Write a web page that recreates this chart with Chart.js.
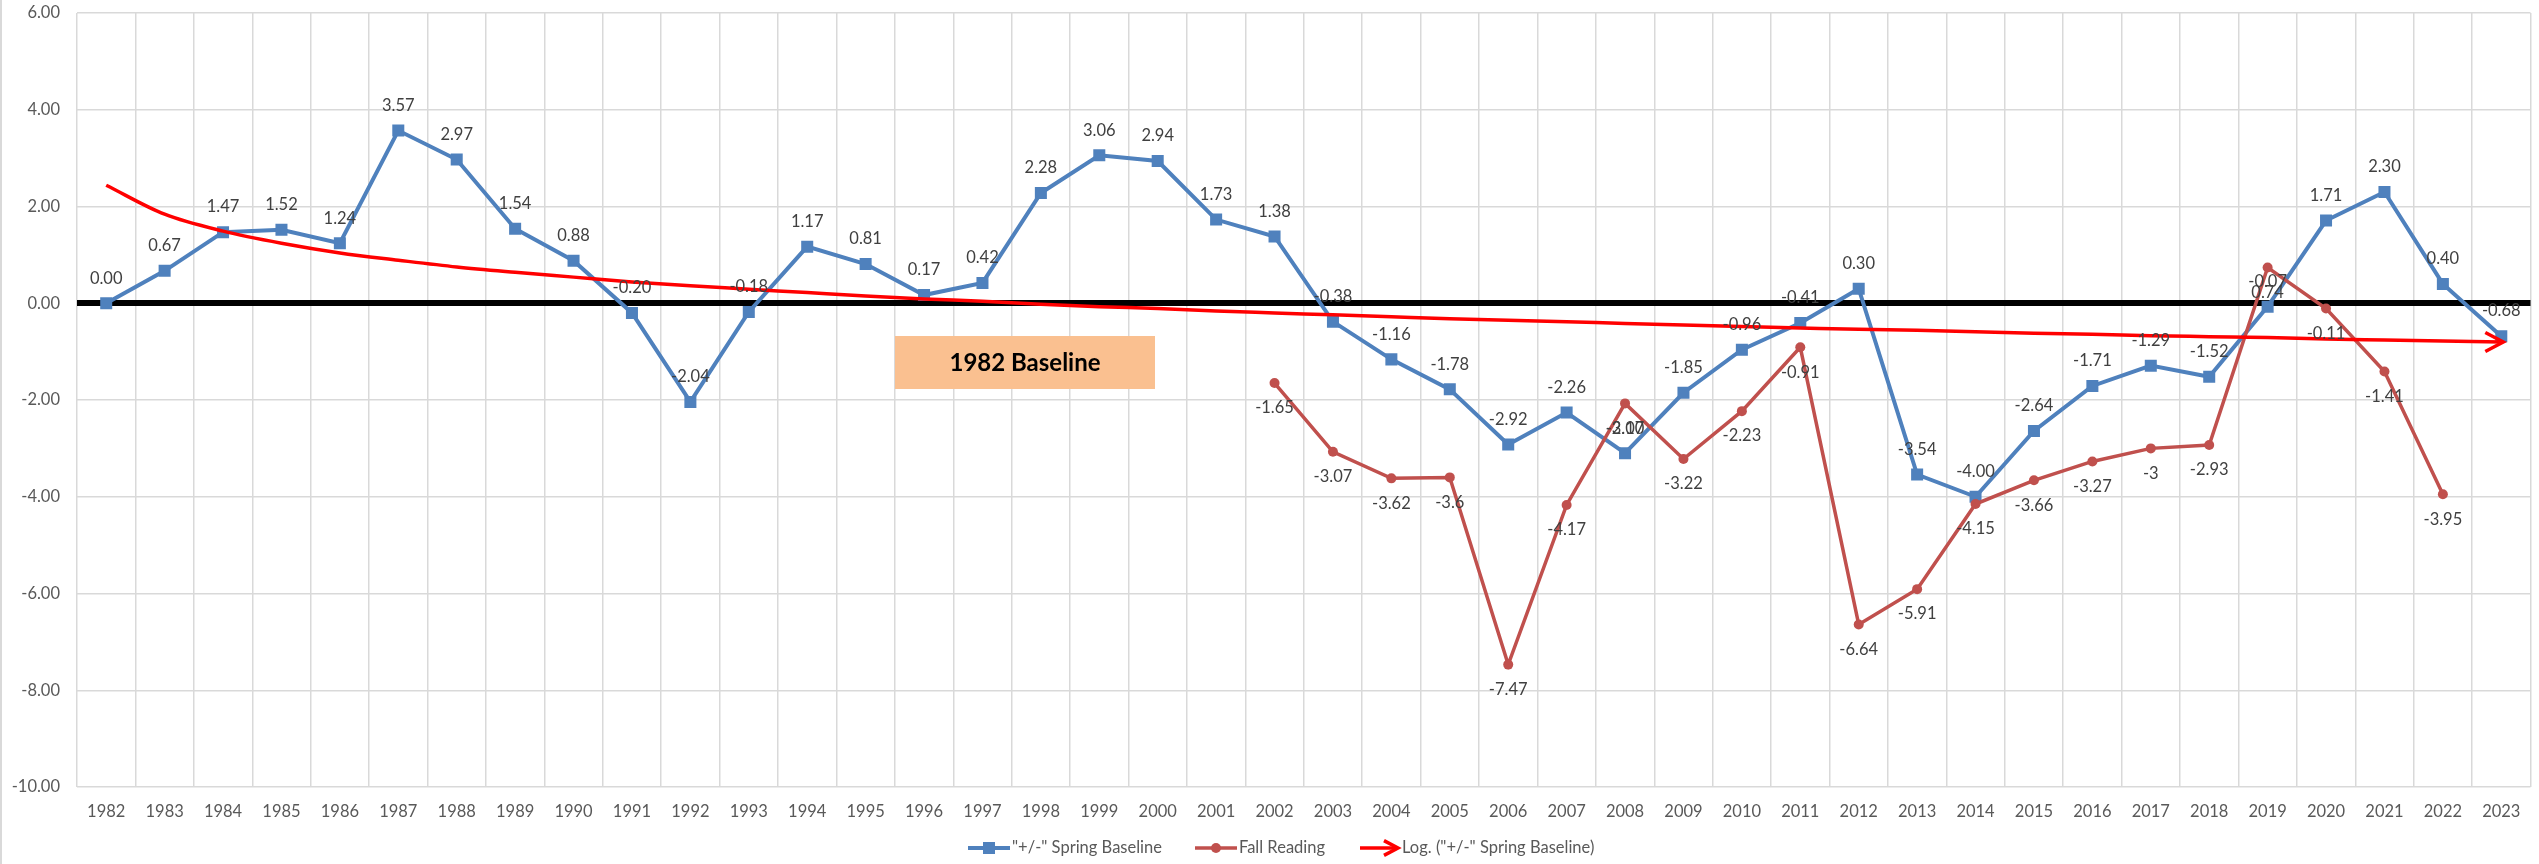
<!DOCTYPE html>
<html>
<head>
<meta charset="utf-8">
<script src="https://cdn.jsdelivr.net/npm/chart.js@4.4.1/dist/chart.umd.min.js"></script>
<style>
    html, body { margin: 0; padding: 0; background: #fff; }
    canvas { display: block; }
</style>
</head>
<body>
<canvas id="readingChart" width="2539" height="864"></canvas>
<script>
// Chart data
const years = ['1982', '1983', '1984', '1985', '1986', '1987', '1988', '1989', '1990', '1991',
    '1992', '1993', '1994', '1995', '1996', '1997', '1998', '1999', '2000', '2001',
    '2002', '2003', '2004', '2005', '2006', '2007', '2008', '2009', '2010', '2011',
    '2012', '2013', '2014', '2015', '2016', '2017', '2018', '2019', '2020', '2021',
    '2022', '2023'];

const springBaseline = [0.00, 0.67, 1.47, 1.52, 1.24, 3.57, 2.97, 1.54, 0.88, -0.20,
    -2.04, -0.18, 1.17, 0.81, 0.17, 0.42, 2.28, 3.06, 2.94, 1.73,
    1.38, -0.38, -1.16, -1.78, -2.92, -2.26, -3.10, -1.85, -0.96, -0.41,
    0.30, -3.54, -4.00, -2.64, -1.71, -1.29, -1.52, -0.07, 1.71, 2.30,
    0.40, -0.68];

const fallReading = [null, null, null, null, null, null, null, null, null, null,
    null, null, null, null, null, null, null, null, null, null,
    -1.65, -3.07, -3.62, -3.6, -7.47, -4.17, -2.07, -3.22, -2.23, -0.91,
    -6.64, -5.91, -4.15, -3.66, -3.27, -3, -2.93, 0.74, -0.11, -1.41,
    -3.95, null];

// log trendline of the spring series
const springLogTrend = [2.44, 1.84, 1.49, 1.24, 1.04, 0.89, 0.75, 0.64, 0.54, 0.44,
    0.36, 0.29, 0.22, 0.15, 0.09, 0.04, -0.02, -0.07, -0.11, -0.16,
    -0.20, -0.24, -0.28, -0.32, -0.35, -0.38, -0.42, -0.45, -0.48, -0.51,
    -0.54, -0.56, -0.59, -0.62, -0.64, -0.67, -0.69, -0.71, -0.74, -0.76,
    -0.78, -0.80];

const seriesNames = ['"+/-" Spring Baseline', 'Fall Reading', 'Log. ("+/-" Spring Baseline)'];
const boxText = '1982 Baseline';

const blue = '#4F81BD';
const red = '#C0504D';
const trendRed = '#FF0000';
const gridGray = '#D9D9D9';
const textGray = '#595959';
const fontFamily = "Lato, 'Liberation Sans', sans-serif";
const fontSize = 16.5;

function drawArrowHead(ctx, x, y, size) {
    ctx.beginPath();
    ctx.moveTo(x - size, y - size / 1.9);
    ctx.lineTo(x, y);
    ctx.lineTo(x - size, y + size / 1.9);
    ctx.stroke();
}

// value labels above blue points, below red points
const pointLabels = {
    id: 'pointLabels',
    afterDatasetsDraw(chart) {
        const ctx = chart.ctx;
        ctx.save();
        ctx.font = fontSize + 'px ' + fontFamily;
        ctx.fillStyle = '#404040';
        ctx.textAlign = 'center';
        ctx.textBaseline = 'middle';
        chart.getDatasetMeta(0).data.forEach((pt, i) => {
            ctx.fillText(springBaseline[i].toFixed(2), pt.x, pt.y - 25);
        });
        chart.getDatasetMeta(1).data.forEach((pt, i) => {
            if (fallReading[i] === null) return;
            ctx.fillText(String(fallReading[i]), pt.x, pt.y + 25);
        });
        // arrow at the end of the trendline
        const trendPts = chart.getDatasetMeta(2).data;
        const last = trendPts[trendPts.length - 1];
        ctx.strokeStyle = trendRed;
        ctx.lineWidth = 3.5;
        drawArrowHead(ctx, last.x + 2, last.y, 18);
        ctx.restore();
    }
};

const extras = {
    id: 'extras',
    afterDraw(chart) {
        const ctx = chart.ctx;
        ctx.save();
        // outer frame line
        ctx.fillStyle = gridGray;
        ctx.fillRect(0, 0, 2, chart.height);

        // baseline text box
        ctx.fillStyle = '#FAC090';
        ctx.fillRect(895, 336, 260, 53);
        ctx.fillStyle = '#000';
        ctx.font = 'bold 24px ' + fontFamily;
        ctx.textAlign = 'center';
        ctx.textBaseline = 'middle';
        ctx.fillText(boxText, 1025, 363);

        // legend
        const y = 848;
        ctx.font = fontSize + 'px ' + fontFamily;
        ctx.textAlign = 'left';

        let x = 968;
        ctx.strokeStyle = blue;
        ctx.lineWidth = 4;
        ctx.beginPath(); ctx.moveTo(x, y); ctx.lineTo(x + 42, y); ctx.stroke();
        ctx.fillStyle = blue;
        ctx.fillRect(x + 15, y - 6, 12, 12);
        ctx.fillStyle = textGray;
        ctx.fillText(seriesNames[0], x + 44, y);

        x = 1195;
        ctx.strokeStyle = red;
        ctx.lineWidth = 3.5;
        ctx.beginPath(); ctx.moveTo(x, y); ctx.lineTo(x + 42, y); ctx.stroke();
        ctx.fillStyle = red;
        ctx.beginPath(); ctx.arc(x + 21, y, 5, 0, Math.PI * 2); ctx.fill();
        ctx.fillStyle = textGray;
        ctx.fillText(seriesNames[1], x + 44, y);

        x = 1360;
        ctx.strokeStyle = trendRed;
        ctx.lineWidth = 3.5;
        ctx.beginPath(); ctx.moveTo(x, y); ctx.lineTo(x + 38, y); ctx.stroke();
        drawArrowHead(ctx, x + 38, y, 14);
        ctx.fillStyle = textGray;
        ctx.fillText(seriesNames[2], x + 42, y);
        ctx.restore();
    }
};

const readingChartElement = document.getElementById('readingChart');
const readingChart = new Chart(readingChartElement, {
    type: 'line',
    data: {
        labels: years,
        datasets: [
            {
                label: seriesNames[0],
                data: springBaseline,
                borderColor: blue,
                backgroundColor: blue,
                borderWidth: 4,
                pointStyle: 'rect',
                pointRadius: 8.5,
                pointBorderWidth: 0,
                order: 2
            },
            {
                label: seriesNames[1],
                data: fallReading,
                borderColor: red,
                backgroundColor: red,
                borderWidth: 3.5,
                pointStyle: 'circle',
                pointRadius: 5,
                pointBorderWidth: 0,
                spanGaps: false,
                order: 1
            },
            {
                label: seriesNames[2],
                data: springLogTrend,
                borderColor: trendRed,
                borderWidth: 3.5,
                pointRadius: 0,
                cubicInterpolationMode: 'monotone',
                order: 0
            }
        ]
    },
    options: {
        responsive: false,
        animation: false,
        events: [],
        layout: { padding: { top: 13, right: 5, left: 0, bottom: 0 } },
        plugins: {
            legend: { display: false },
            tooltip: { enabled: false }
        },
        scales: {
            x: {
                offset: true,
                grid: { offset: true, color: gridGray, lineWidth: 1.5, drawTicks: false },
                border: { display: false },
                ticks: {
                    color: textGray,
                    font: { family: fontFamily, size: fontSize },
                    padding: 15,
                    maxRotation: 0,
                    autoSkip: false
                },
                afterFit: function (scale) { scale.height = 77; }
            },
            y: {
                min: -10,
                max: 6,
                grid: {
                    color: ctx => ctx.tick.value === 0 ? '#000' : gridGray,
                    lineWidth: ctx => ctx.tick.value === 0 ? 6 : 1.5,
                    drawTicks: false
                },
                border: { display: false },
                ticks: {
                    stepSize: 2,
                    color: textGray,
                    font: { family: fontFamily, size: fontSize },
                    padding: 17,
                    callback: v => v.toFixed(2)
                },
                afterFit: function (scale) {
                    scale.width = 77;
                    scale.paddingTop = 0;
                    scale.paddingBottom = 0;
                }
            }
        }
    },
    plugins: [pointLabels, extras]
});
</script>
</body>
</html>
